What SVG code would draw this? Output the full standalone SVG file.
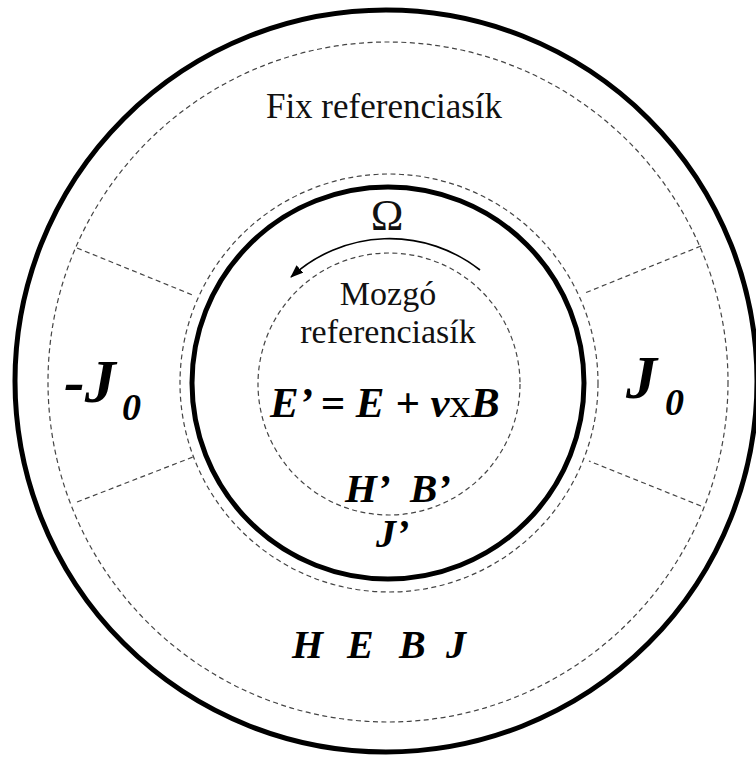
<svg xmlns="http://www.w3.org/2000/svg" width="756" height="761" viewBox="0 0 756 761">
<style>
.thick{fill:none;stroke:#000;stroke-width:5}
.dash{fill:none;stroke:#444;stroke-width:1.2;stroke-dasharray:5 3.5}
.t{font-family:"Liberation Serif","Times New Roman",serif;fill:#111}
.bi{font-family:"Liberation Serif","Times New Roman",serif;font-weight:bold;font-style:italic;fill:#000}
</style>
<defs>
<marker id="ah" markerWidth="14" markerHeight="10" refX="12" refY="5" orient="auto" markerUnits="userSpaceOnUse">
<path d="M0,0 L13,5 L0,10 Z" fill="#000"/>
</marker>
</defs>
<rect width="756" height="761" fill="#fff"/>
<g id="outer-ring">
<circle class="thick" cx="386" cy="381" r="371"/>
<circle class="dash" cx="388" cy="382" r="340"/>
</g>
<g id="inner-ring">
<circle class="dash" cx="389" cy="383" r="209"/>
<circle class="thick" cx="388" cy="383" r="196"/>
<circle class="dash" cx="389" cy="384" r="131"/>
</g>
<g id="connectors">
<line class="dash" x1="77" y1="248" x2="195" y2="296"/>
<line class="dash" x1="77" y1="502" x2="193" y2="457"/>
<line class="dash" x1="701" y1="246" x2="585" y2="293"/>
<line class="dash" x1="701" y1="506" x2="589" y2="461"/>
<path d="M480,270 A146,146 0 0 0 291,277" fill="none" stroke="#000" stroke-width="1.6" marker-end="url(#ah)"/>
</g>
<g id="labels">
<text class="t" x="384" y="118" font-size="35" text-anchor="middle">Fix referenciasík</text>
<text class="t" x="387" y="230" font-size="44" text-anchor="middle">Ω</text>
<text class="t" x="388" y="305" font-size="34" text-anchor="middle">Mozgó</text>
<text class="t" x="388" y="343" font-size="34" text-anchor="middle">referenciasík</text>
<text class="bi" x="270" y="417" font-size="43">E’ = E + <tspan>v</tspan><tspan font-weight="normal" font-style="normal">x</tspan><tspan>B</tspan></text>
<text class="bi" x="345" y="502" font-size="41">H’</text>
<text class="bi" x="410" y="502" font-size="41">B’</text>
<text class="bi" x="376" y="547" font-size="40">J’</text>
<text class="bi" x="292" y="658" font-size="40">H</text>
<text class="bi" x="347" y="658" font-size="40">E</text>
<text class="bi" x="399" y="658" font-size="40">B</text>
<text class="bi" x="446" y="658" font-size="40">J</text>
<text class="bi" x="64" y="402" font-size="62">-J</text>
<text class="bi" x="122" y="420" font-size="38">0</text>
<text class="bi" x="626" y="398" font-size="62">J</text>
<text class="bi" x="665" y="415" font-size="38">0</text>
</g>
</svg>
